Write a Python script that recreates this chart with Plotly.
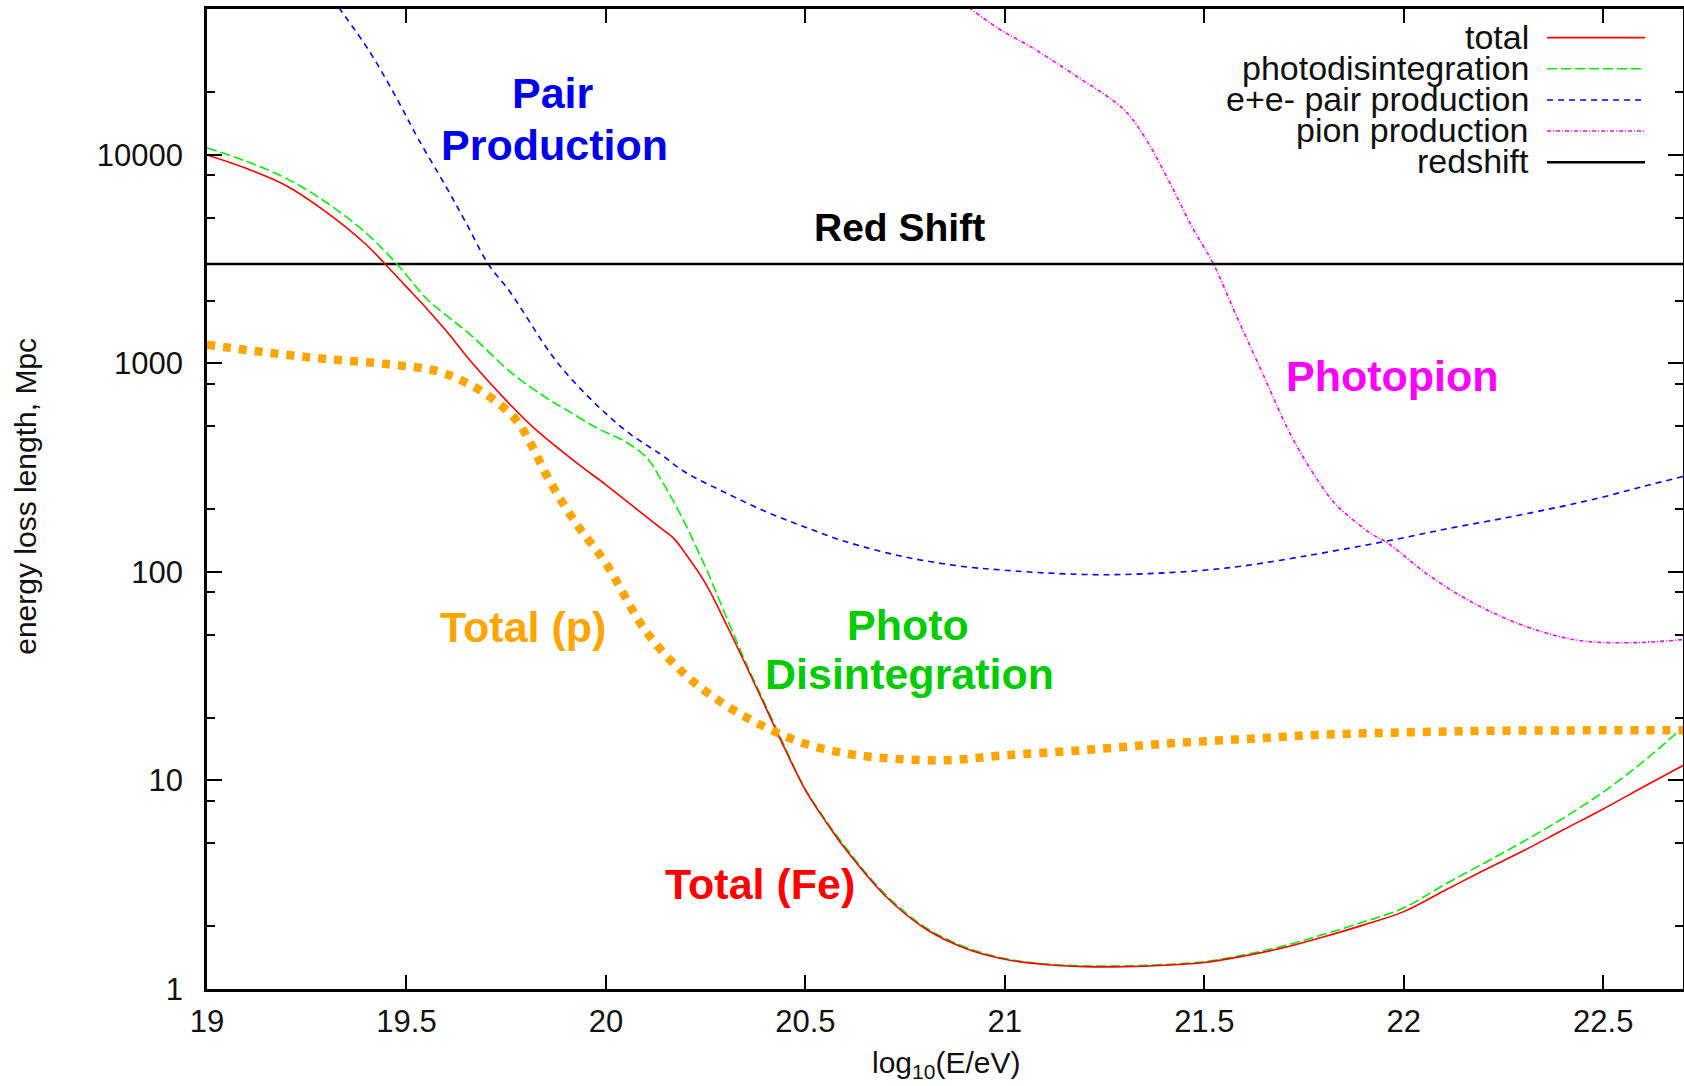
import plotly.graph_objects as go

# ---------------- data ----------------
fe_total_x = [19.0, 19.1, 19.2, 19.3, 19.4, 19.45, 19.5, 19.55, 19.6, 19.667, 19.75, 19.82, 19.93,
              20.0, 20.07, 20.136, 20.17, 20.2, 20.25, 20.3, 20.35, 20.4, 20.45, 20.5, 20.55, 20.6,
              20.7, 20.8, 20.9, 21.0, 21.1, 21.2, 21.3, 21.4, 21.5, 21.6, 21.7, 21.8, 21.9, 22.0,
              22.1, 22.2, 22.3, 22.4, 22.5, 22.6, 22.7]
fe_total_y = [10000, 8600, 7100, 5300, 3700, 2950, 2330, 1840, 1430, 993, 665, 490, 330,
              262, 205, 163, 145, 122, 88, 57, 36, 22.5, 14, 9.0, 6.4, 4.7,
              2.8, 1.95, 1.57, 1.39, 1.31, 1.28, 1.28, 1.30, 1.34, 1.44, 1.58, 1.78, 2.03, 2.35,
              2.95, 3.7, 4.6, 5.8, 7.3, 9.3, 11.8]

photodis_x = [19.0, 19.1, 19.2, 19.3, 19.4, 19.476, 19.55, 19.6, 19.659, 19.767, 19.852, 19.9,
              19.978, 20.05, 20.103, 20.136, 20.186, 20.25, 20.3, 20.35, 20.4, 20.45, 20.5, 20.6,
              20.7, 20.8, 20.9, 21.0, 21.1, 21.2, 21.3, 21.4, 21.5, 21.6, 21.7, 21.8, 21.9, 22.0,
              22.1, 22.2, 22.3, 22.4, 22.5, 22.6, 22.7]
photodis_y = [10800, 9300, 7700, 5900, 4200, 3000, 2050, 1700, 1380, 889, 682, 600,
              490, 420, 352, 282, 190, 105, 62, 37, 23, 14.3, 9.1, 4.8,
              2.85, 1.98, 1.59, 1.40, 1.32, 1.29, 1.29, 1.31, 1.35, 1.46, 1.61, 1.83, 2.1, 2.45,
              3.15, 4.0, 5.1, 6.6, 8.8, 12.3, 18.0]

pair_x = [19.33, 19.409, 19.476, 19.529, 19.6, 19.65, 19.705, 19.76, 19.852, 19.9, 19.985, 20.06,
          20.136, 20.2, 20.3, 20.4, 20.5, 20.6, 20.75, 20.9, 21.0, 21.1, 21.25, 21.4, 21.5, 21.6,
          21.75, 21.9, 22.0, 22.1, 22.25, 22.4, 22.5, 22.6, 22.7]
pair_y = [51000, 31000, 18600, 12000, 7000, 4700, 3000, 2200, 1183, 900, 611, 460,
          368, 300, 240, 195, 164, 140, 118, 106, 102, 99, 97, 99, 102, 107,
          119, 134, 146, 160, 181, 207, 229, 257, 287]

pion_x = [20.91, 20.984, 21.065, 21.173, 21.297, 21.348, 21.415, 21.469, 21.523, 21.577, 21.644,
          21.711, 21.75, 21.792, 21.83, 21.873, 21.92, 21.959, 22.061, 22.169, 22.304, 22.438,
          22.573, 22.7]
pion_y = [51000, 40400, 33000, 24300, 16600, 12400, 7260, 4530, 3000, 1750, 915,
          477, 350, 262, 210, 178, 152, 138, 97, 72, 55, 47,
          45.8, 47.4]

redshift_x = [19.0, 22.7]
redshift_y = [3000, 3000]

p_total_x = [19.0, 19.1, 19.2, 19.3, 19.45, 19.577, 19.652, 19.717, 19.777, 19.817, 19.852,
             19.892, 19.935, 20.0, 20.1, 20.2, 20.3, 20.4, 20.5, 20.6, 20.7, 20.85, 21.0, 21.2,
             21.4, 21.6, 21.8, 22.0, 22.2, 22.5, 22.7]
p_total_y = [1230, 1160, 1100, 1050, 993, 918, 805, 675, 530, 394, 289,
             214, 161, 110, 52, 32, 23, 18, 15, 13.5, 12.8, 12.5, 13.2, 14.0,
             15.0, 15.8, 16.6, 17.0, 17.3, 17.4, 17.4]

x_tickvals = [19, 19.5, 20, 20.5, 21, 21.5, 22, 22.5]
x_ticktext = ["19", "19.5", "20", "20.5", "21", "21.5", "22", "22.5"]
y_tickvals = [1, 10, 100, 1000, 10000]
y_ticktext = ["1", "10", "100", "1000", "10000"]
y_minor = [m * 10 ** d for d in range(0, 5) for m in (2, 5, 8)]

legend_names = ["total", "photodisintegration", "e+e- pair production", "pion production", "redshift"]

# ---------------- styles ----------------
RED = "#FF0000"
GREEN_LINE = "#00EE00"
BLUE = "#0000FF"
MAGENTA = "#FF00FF"
ORANGE = "#FFA500"
styles = {
    "total": dict(color=RED, width=1.6, dash="solid"),
    "photodisintegration": dict(color=GREEN_LINE, width=1.6, dash="10px,4px"),
    "e+e- pair production": dict(color=BLUE, width=1.6, dash="6px,5px"),
    "pion production": dict(color=MAGENTA, width=1.6, dash="4px,2px,1px,2px"),
    "redshift": dict(color="black", width=2.5, dash="solid"),
}


def curve(name):
    st = dict(styles[name])
    st.update(shape="spline", smoothing=1.0)
    return st


fig = go.Figure()
fig.add_trace(go.Scatter(x=pion_x, y=pion_y, mode="lines", name="pion production",
                         line=curve("pion production")))
fig.add_trace(go.Scatter(x=pair_x, y=pair_y, mode="lines", name="e+e- pair production",
                         line=curve("e+e- pair production")))
fig.add_trace(go.Scatter(x=redshift_x, y=redshift_y, mode="lines", name="redshift",
                         line=styles["redshift"]))
fig.add_trace(go.Scatter(x=photodis_x, y=photodis_y, mode="lines", name="photodisintegration",
                         line=curve("photodisintegration")))
fig.add_trace(go.Scatter(x=fe_total_x, y=fe_total_y, mode="lines", name="total",
                         line=curve("total")))
fig.add_trace(go.Scatter(x=p_total_x, y=p_total_y, mode="lines", name="Total (p)",
                         line=dict(color=ORANGE, width=8.5, dash="8px,8px", shape="spline", smoothing=1.0)))

FAMILY = "Liberation Sans, Arial, sans-serif"
TICKFONT = dict(family=FAMILY, size=31, color="#111")

fig.update_layout(
    width=1684, height=1086,
    margin=dict(l=207, r=1, t=9, b=97, pad=0),
    paper_bgcolor="white", plot_bgcolor="white",
    showlegend=False,
    font=TICKFONT,
    xaxis=dict(range=[19, 22.7], tickmode="array", tickvals=x_tickvals, ticktext=x_ticktext,
               ticks="inside", ticklen=14, tickwidth=2, tickcolor="black",
               showline=True, linewidth=2.5, linecolor="black", mirror="ticks",
               showgrid=False, zeroline=False, ticklabelstandoff=3, tickfont=TICKFONT,
               automargin=False),
    yaxis=dict(type="log", range=[0, 4.7], tickmode="array", tickvals=y_tickvals, ticktext=y_ticktext,
               ticks="inside", ticklen=15, tickwidth=2, tickcolor="black",
               minor=dict(tickmode="array", tickvals=y_minor, ticks="inside", ticklen=8,
                          tickwidth=2, tickcolor="black", showgrid=False),
               showline=True, linewidth=2.5, linecolor="black", mirror="ticks",
               showgrid=False, zeroline=False, ticklabelstandoff=15, tickfont=TICKFONT,
               automargin=False),
)

# axis titles
fig.add_annotation(text="energy loss length, Mpc", xref="paper", yref="paper", x=-0.1235, y=0.503,
                   textangle=-90, showarrow=False, xanchor="center", yanchor="middle",
                   font=dict(family=FAMILY, size=30, color="#111"))
fig.add_annotation(text="log<sub>10</sub>(E/eV)", xref="paper", yref="paper", x=0.5007, y=-0.0775,
                   showarrow=False, xanchor="center", yanchor="middle",
                   font=dict(family=FAMILY, size=30, color="#111"))

# in-plot labels
label_text = ["Pair", "Production", "Red Shift", "Photopion", "Total (p)", "Photo", "Disintegration", "Total (Fe)"]
label_color = ["#0000F0", "#0000F0", "black", "#FF00FF", ORANGE, "#00CC00", "#00CC00", RED]
label_size = [43, 43, 39, 43, 43, 43, 43, 43]
label_x = [19.867, 19.870, 20.737, 21.973, 19.792, 20.757, 20.760, 20.386]
label_logy = [4.299, 4.050, 3.652, 2.939, 1.738, 1.747, 1.510, 0.503]
for t, c, s, lx, ly in zip(label_text, label_color, label_size, label_x, label_logy):
    fig.add_annotation(text="<b>" + t + "</b>", x=lx, y=ly, xref="x", yref="y", showarrow=False,
                       xanchor="center", yanchor="middle",
                       font=dict(family=FAMILY, size=s, color=c))

# manual key (gnuplot style: text right-aligned, sample line to the right)
key_rows_y = [0.9708, 0.9391, 0.9072, 0.8755, 0.8437]
key_text_x = 0.897
key_line_x0, key_line_x1 = 0.9079, 0.9743
for name, ky in zip(legend_names, key_rows_y):
    fig.add_annotation(text=name, xref="paper", yref="paper", x=key_text_x, y=ky + 0.001,
                       xanchor="right", yanchor="middle", showarrow=False,
                       font=dict(family=FAMILY, size=34, color="#111"))
    fig.add_shape(type="line", xref="paper", yref="paper", x0=key_line_x0, x1=key_line_x1,
                  y0=ky, y1=ky, line=styles[name])

# remove the browser's default 8px page margin so the figure fills the window exactly
fig.write_html(
    "out.html",
    config={"displayModeBar": False},
    post_script="document.body.style.margin='0';"
                "document.body.style.overflow='hidden';"
                "document.documentElement.style.overflow='hidden';",
)
